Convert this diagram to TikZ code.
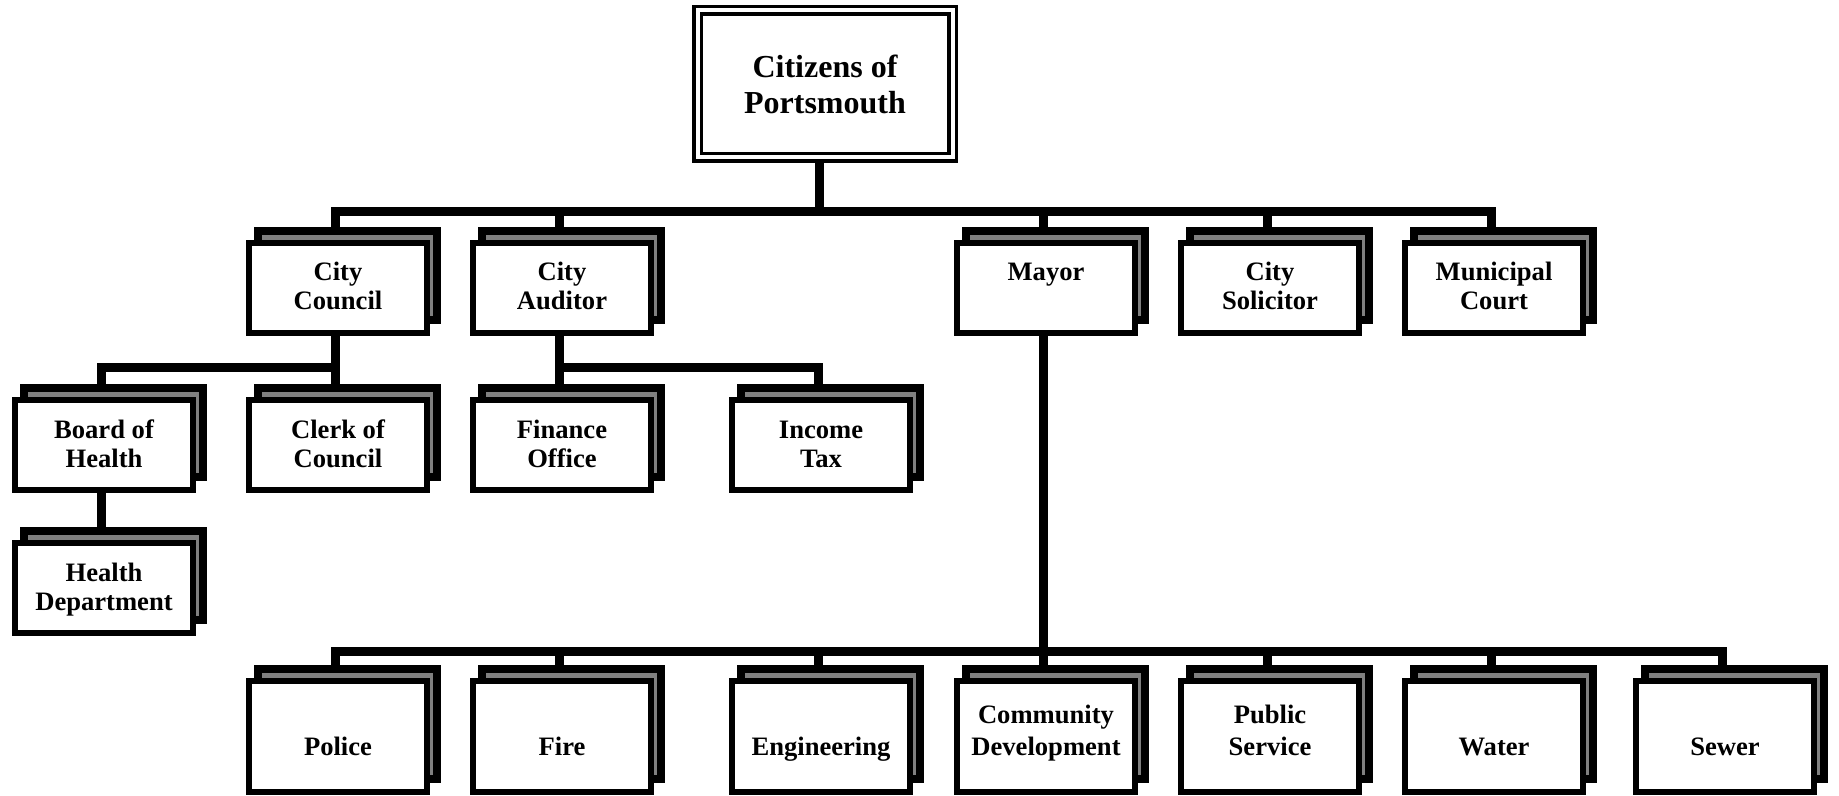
\documentclass[tikz,border=0pt]{standalone}
\usepackage{fontspec}
\setmainfont{Liberation Serif}
\definecolor{shadowgray}{RGB}{128,128,128}
\pgfdeclarelayer{conn}
\pgfdeclarelayer{back}
\pgfsetlayers{conn,back,main}
\newcommand\boxtext[4]{\parbox[c][#1][t]{89pt}{\centering\fontsize{13.3}{#3}\selectfont\bfseries\vspace*{#2}\strut #4\par}}
\newcommand\lvl[1]{\boxtext{45pt}{8.85pt}{14.5pt}{#1}}
\newcommand\btm[1]{\boxtext{55.5pt}{9.8pt}{16pt}{#1}}
\newcommand\btmone[1]{\boxtext{55.5pt}{25.8pt}{16pt}{#1}}
\tikzset{
  unit/.style={draw=black, line width=3pt, fill=white, inner sep=0pt, outer sep=0pt},
  backbox/.style={draw=black, line width=4pt, fill=shadowgray},
  conn/.style={draw=black, line width=4.5pt, line join=miter},
  topbox/.style={draw=black, double=white, line width=1.75pt, double distance=2pt, fill=white,
    inner sep=0pt, outer sep=0pt, minimum width=127.5pt, minimum height=73.5pt,
    align=center, font=\fontsize{16}{18}\selectfont\bfseries},
}
\begin{document}
\begin{tikzpicture}[x=0.5pt, y=-0.5pt]
\useasboundingbox (0,0) rectangle (1839,796);
% top
\node[topbox] (cit) at (825,84) {Citizens of\\Portsmouth};
% level 1
\node[unit] (cc) at (338,288) {\lvl{City\\Council}};
\node[unit] (ca) at (562,288) {\lvl{City\\Auditor}};
\node[unit] (my) at (1046,288) {\lvl{Mayor}};
\node[unit] (cs) at (1270,288) {\lvl{City\\Solicitor}};
\node[unit] (mc) at (1494,288) {\lvl{Municipal\\Court}};
% level 2
\node[unit] (bh) at (104,445) {\lvl{Board of\\Health}};
\node[unit] (ck) at (338,445) {\lvl{Clerk of\\Council}};
\node[unit] (fo) at (562,445) {\lvl{Finance\\Office}};
\node[unit] (it) at (821,445) {\lvl{Income\\Tax}};
% level 3
\node[unit] (hd) at (104,588) {\lvl{Health\\Department}};
% bottom row
\node[unit] (po) at (338,736.5) {\btmone{Police}};
\node[unit] (fi) at (562,736.5) {\btmone{Fire}};
\node[unit] (en) at (821,736.5) {\btmone{Engineering}};
\node[unit] (cd) at (1046,736.5) {\btm{Community\\Development}};
\node[unit] (ps) at (1270,736.5) {\btm{Public\\Service}};
\node[unit] (wa) at (1494,736.5) {\btmone{Water}};
\node[unit] (se) at (1725,736.5) {\btmone{Sewer}};
% shadow boxes
\begin{pgfonlayer}{back}
\foreach \n in {cc,ca,my,cs,mc,bh,ck,fo,it,hd,po,fi,en,cd,ps,wa,se}
  \draw[backbox] ([xshift=4.5pt,yshift=6pt]\n.north west) rectangle ([xshift=5pt,yshift=6.5pt]\n.south east);
\end{pgfonlayer}
% connectors
\begin{pgfonlayer}{conn}
\coordinate (j1) at (819,212);
\coordinate (j2) at (335,367);
\coordinate (j3) at (559,367);
\coordinate (j4) at (1043,651);
\draw[conn] (cit.south -| j1) -- (j1) -| ([xshift=-1.5pt]cc.center);
\draw[conn] (j1) -| ([xshift=-1.5pt]ca.center);
\draw[conn] (j1) -| ([xshift=-1.5pt]my.center);
\draw[conn] (j1) -| ([xshift=-1.5pt]cs.center);
\draw[conn] (j1) -| ([xshift=-1.5pt]mc.center);
\draw[conn] ([xshift=-1.5pt]cc.center) -- ([xshift=-1.5pt]ck.center);
\draw[conn] (j2) -| ([xshift=-1.5pt]bh.center);
\draw[conn] ([xshift=-1.5pt]ca.center) -- ([xshift=-1.5pt]fo.center);
\draw[conn] (j3) -| ([xshift=-1.5pt]it.center);
\draw[conn] ([xshift=-1.5pt]bh.center) -- ([xshift=-1.5pt]hd.center);
\draw[conn] ([xshift=-1.5pt]my.center) -- ([xshift=-1.5pt]cd.center);
\draw[conn] (j4) -| ([xshift=-1.5pt]po.center);
\draw[conn] (j4) -| ([xshift=-1.5pt]fi.center);
\draw[conn] (j4) -| ([xshift=-1.5pt]en.center);
\draw[conn] (j4) -| ([xshift=-1.5pt]ps.center);
\draw[conn] (j4) -| ([xshift=-1.5pt]wa.center);
\draw[conn] (j4) -| ([xshift=-1.5pt]se.center);
\end{pgfonlayer}
\end{tikzpicture}
\end{document}
